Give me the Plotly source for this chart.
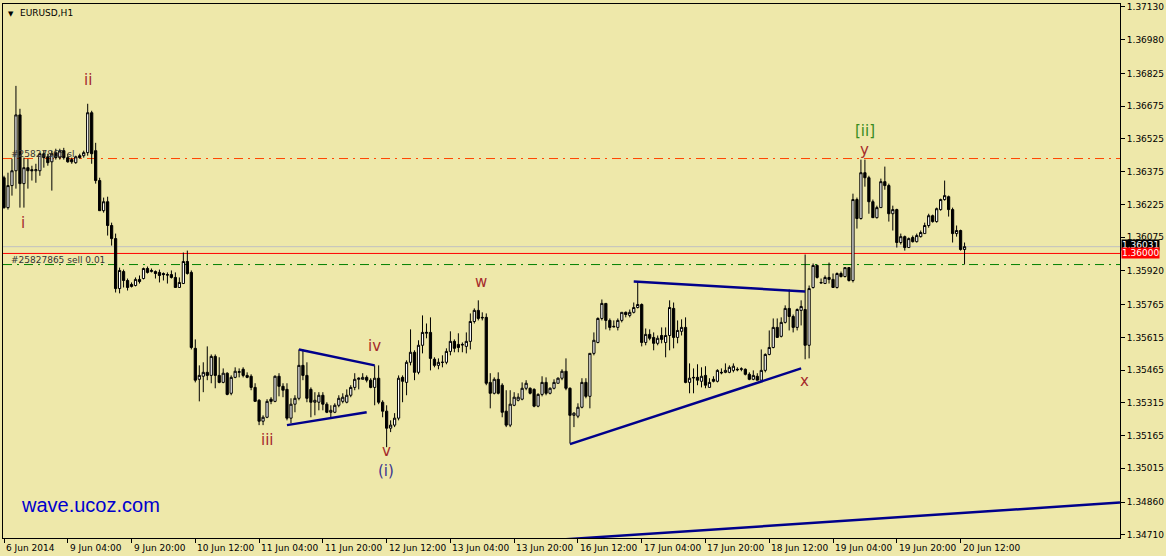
import plotly.graph_objects as go

# ---------------- data (EURUSD H1, bar 0 = 6 Jun 2014 12:00) ----------------
open_ = [
1.36347,1.36210,1.36311,1.36379,1.36635,1.36320,1.36393,1.36384,1.36379,1.36379,
1.36457,1.36443,1.36420,1.36462,1.36439,1.36471,1.36439,1.36430,1.36416,1.36448,
1.36448,1.36462,1.36645,1.36471,1.36334,1.36196,1.36237,1.36128,1.36068,1.35839,
1.35917,1.35876,1.35858,1.35853,1.35881,1.35885,1.35931,1.35917,1.35917,1.35913,
1.35908,1.35903,1.35903,1.35890,1.35844,1.35862,1.35963,1.35913,1.35565,1.35423,
1.35437,1.35455,1.35441,1.35528,1.35441,1.35409,1.35451,1.35359,1.35432,1.35455,
1.35469,1.35441,1.35437,1.35386,1.35327,1.35231,1.35249,1.35332,1.35322,1.35437,
1.35391,1.35377,1.35245,1.35309,1.35336,1.35487,1.35441,1.35377,1.35318,1.35318,
1.35350,1.35309,1.35272,1.35272,1.35304,1.35322,1.35318,1.35350,1.35386,1.35423,
1.35423,1.35432,1.35419,1.35386,1.35428,1.35318,1.35277,1.35199,1.35213,1.35245,
1.35432,1.35409,1.35501,1.35547,1.35455,1.35579,1.35634,1.35638,1.35515,1.35487,
1.35501,1.35501,1.35551,1.35597,1.35583,1.35583,1.35574,1.35597,1.35688,1.35739,
1.35707,1.35707,1.35409,1.35359,1.35423,1.35396,1.35277,1.35213,1.35304,1.35327,
1.35332,1.35382,1.35382,1.35377,1.35300,1.35354,1.35409,1.35359,1.35382,1.35405,
1.35428,1.35460,1.35382,1.35258,1.35254,1.35295,1.35409,1.35345,1.35542,1.35592,
1.35702,1.35771,1.35693,1.35666,1.35661,1.35693,1.35730,1.35716,1.35730,1.35752,
1.35766,1.35592,1.35629,1.35615,1.35588,1.35624,1.35592,1.35624,1.35748,1.35615,
1.35643,1.35661,1.35409,1.35432,1.35432,1.35414,1.35441,1.35386,1.35423,1.35414,
1.35455,1.35455,1.35455,1.35464,1.35469,1.35469,1.35469,1.35446,1.35423,1.35437,
1.35419,1.35464,1.35537,1.35569,1.35661,1.35620,1.35684,1.35748,1.35711,1.35661,
1.35739,1.35743,1.35579,1.35844,1.35945,1.35867,1.35862,1.35890,1.35881,1.35844,
1.35908,1.35894,1.35935,1.35876,1.36247,1.36160,1.36370,1.36347,1.36237,1.36164,
1.36210,1.36329,1.36311,1.36182,1.36201,1.36050,1.36077,1.36027,1.36073,1.36054,
1.36077,1.36091,1.36128,1.36173,1.36146,1.36201,1.36247,1.36260,1.36201,1.36091,
1.36105,1.36018]

high = [
1.36356,1.36370,1.36434,1.36768,1.36663,1.36439,1.36434,1.36402,1.36411,1.36462,
1.36471,1.36457,1.36471,1.36480,1.36480,1.36484,1.36457,1.36439,1.36448,1.36457,
1.36471,1.36686,1.36654,1.36507,1.36347,1.36256,1.36260,1.36141,1.36091,1.35935,
1.35926,1.35885,1.35867,1.35890,1.35899,1.35935,1.35940,1.35931,1.35922,1.35926,
1.35913,1.35913,1.35922,1.35913,1.35890,1.36004,1.36013,1.35922,1.35606,1.35487,
1.35501,1.35574,1.35537,1.35537,1.35524,1.35473,1.35455,1.35441,1.35478,1.35473,
1.35478,1.35455,1.35446,1.35405,1.35332,1.35258,1.35332,1.35341,1.35441,1.35451,
1.35405,1.35405,1.35336,1.35350,1.35560,1.35560,1.35501,1.35386,1.35364,1.35364,
1.35364,1.35318,1.35304,1.35313,1.35350,1.35359,1.35377,1.35396,1.35451,1.35432,
1.35451,1.35441,1.35428,1.35487,1.35487,1.35327,1.35304,1.35235,1.35268,1.35441,
1.35441,1.35510,1.35652,1.35556,1.35602,1.35716,1.35679,1.35707,1.35524,1.35519,
1.35533,1.35565,1.35643,1.35606,1.35634,1.35592,1.35638,1.35725,1.35748,1.35785,
1.35730,1.35725,1.35451,1.35432,1.35455,1.35405,1.35373,1.35373,1.35364,1.35359,
1.35409,1.35419,1.35386,1.35382,1.35359,1.35437,1.35432,1.35386,1.35423,1.35432,
1.35469,1.35519,1.35386,1.35272,1.35313,1.35428,1.35428,1.35542,1.35638,1.35707,
1.35789,1.35771,1.35702,1.35693,1.35702,1.35730,1.35734,1.35743,1.35775,1.35871,
1.35771,1.35656,1.35652,1.35638,1.35624,1.35661,1.35661,1.35785,1.35775,1.35693,
1.35698,1.35707,1.35496,1.35473,1.35492,1.35478,1.35483,1.35428,1.35437,1.35469,
1.35473,1.35496,1.35487,1.35496,1.35478,1.35478,1.35473,1.35455,1.35464,1.35451,
1.35560,1.35542,1.35647,1.35702,1.35702,1.35707,1.35762,1.35835,1.35720,1.35748,
1.35785,1.35995,1.35853,1.35954,1.35949,1.35885,1.35899,1.35958,1.35908,1.35913,
1.35917,1.35935,1.35935,1.36274,1.36256,1.36430,1.36430,1.36356,1.36247,1.36219,
1.36343,1.36398,1.36320,1.36219,1.36205,1.36091,1.36082,1.36073,1.36082,1.36091,
1.36105,1.36141,1.36182,1.36178,1.36210,1.36251,1.36334,1.36265,1.36210,1.36128,
1.36109,1.36050]

low = [
1.36205,1.36201,1.36265,1.36297,1.36210,1.36210,1.36297,1.36334,1.36324,1.36356,
1.36393,1.36402,1.36288,1.36430,1.36430,1.36430,1.36416,1.36411,1.36411,1.36434,
1.36439,1.36448,1.36411,1.36320,1.36196,1.36187,1.36082,1.36036,1.35821,1.35817,
1.35844,1.35830,1.35844,1.35849,1.35862,1.35881,1.35908,1.35913,1.35885,1.35867,
1.35876,1.35862,1.35885,1.35844,1.35844,1.35862,1.35903,1.35560,1.35409,1.35322,
1.35364,1.35419,1.35405,1.35382,1.35405,1.35405,1.35350,1.35350,1.35428,1.35432,
1.35432,1.35428,1.35373,1.35322,1.35213,1.35213,1.35245,1.35309,1.35318,1.35345,
1.35341,1.35235,1.35222,1.35272,1.35327,1.35419,1.35318,1.35249,1.35258,1.35281,
1.35281,1.35268,1.35249,1.35268,1.35295,1.35313,1.35313,1.35341,1.35373,1.35377,
1.35423,1.35409,1.35382,1.35304,1.35309,1.35249,1.35112,1.35181,1.35204,1.35235,
1.35318,1.35350,1.35487,1.35419,1.35446,1.35542,1.35611,1.35464,1.35478,1.35469,
1.35478,1.35492,1.35533,1.35547,1.35547,1.35547,1.35542,1.35560,1.35679,1.35693,
1.35693,1.35396,1.35290,1.35354,1.35354,1.35249,1.35204,1.35204,1.35300,1.35322,
1.35327,1.35373,1.35354,1.35295,1.35295,1.35345,1.35350,1.35354,1.35377,1.35405,
1.35419,1.35373,1.35130,1.35204,1.35245,1.35290,1.35336,1.35290,1.35533,1.35588,
1.35693,1.35652,1.35647,1.35661,1.35647,1.35684,1.35707,1.35707,1.35725,1.35748,
1.35574,1.35579,1.35602,1.35556,1.35579,1.35588,1.35524,1.35556,1.35565,1.35588,
1.35624,1.35405,1.35359,1.35359,1.35396,1.35386,1.35382,1.35386,1.35409,1.35409,
1.35446,1.35451,1.35451,1.35455,1.35460,1.35460,1.35441,1.35419,1.35419,1.35419,
1.35419,1.35455,1.35533,1.35565,1.35615,1.35615,1.35679,1.35647,1.35638,1.35647,
1.35670,1.35515,1.35519,1.35839,1.35885,1.35862,1.35862,1.35862,1.35844,1.35839,
1.35890,1.35890,1.35871,1.35867,1.36114,1.36155,1.36306,1.36182,1.36164,1.36160,
1.36210,1.36292,1.36146,1.36105,1.36027,1.36041,1.36013,1.36027,1.36050,1.36050,
1.36073,1.36091,1.36118,1.36141,1.36141,1.36196,1.36242,1.36169,1.36050,1.36077,
1.36013,1.35949]

close = [
1.36210,1.36311,1.36379,1.36635,1.36320,1.36393,1.36379,1.36379,1.36384,1.36457,
1.36439,1.36416,1.36457,1.36439,1.36471,1.36439,1.36420,1.36420,1.36443,1.36439,
1.36462,1.36645,1.36457,1.36334,1.36196,1.36237,1.36128,1.36068,1.35839,1.35922,
1.35876,1.35844,1.35849,1.35881,1.35871,1.35931,1.35913,1.35922,1.35908,1.35899,
1.35903,1.35901,1.35890,1.35844,1.35867,1.35963,1.35908,1.35569,1.35419,1.35441,
1.35455,1.35441,1.35528,1.35441,1.35409,1.35451,1.35354,1.35432,1.35460,1.35458,
1.35441,1.35432,1.35386,1.35322,1.35231,1.35249,1.35322,1.35322,1.35437,1.35391,
1.35373,1.35245,1.35309,1.35336,1.35487,1.35441,1.35336,1.35318,1.35327,1.35350,
1.35309,1.35272,1.35281,1.35304,1.35336,1.35341,1.35350,1.35386,1.35423,1.35428,
1.35432,1.35419,1.35386,1.35428,1.35318,1.35277,1.35199,1.35213,1.35245,1.35428,
1.35414,1.35501,1.35547,1.35455,1.35579,1.35638,1.35638,1.35519,1.35487,1.35501,
1.35501,1.35551,1.35597,1.35565,1.35569,1.35581,1.35597,1.35688,1.35739,1.35702,
1.35705,1.35405,1.35359,1.35423,1.35359,1.35272,1.35213,1.35309,1.35341,1.35341,
1.35382,1.35405,1.35359,1.35300,1.35354,1.35409,1.35359,1.35382,1.35409,1.35428,
1.35460,1.35382,1.35258,1.35268,1.35295,1.35409,1.35345,1.35542,1.35602,1.35702,
1.35771,1.35693,1.35661,1.35664,1.35693,1.35730,1.35720,1.35730,1.35752,1.35766,
1.35592,1.35629,1.35611,1.35588,1.35611,1.35606,1.35624,1.35752,1.35615,1.35647,
1.35661,1.35409,1.35428,1.35430,1.35419,1.35437,1.35396,1.35409,1.35414,1.35464,
1.35453,1.35464,1.35478,1.35483,1.35467,1.35471,1.35446,1.35423,1.35441,1.35419,
1.35464,1.35537,1.35569,1.35661,1.35615,1.35684,1.35748,1.35711,1.35661,1.35743,
1.35757,1.35579,1.35839,1.35945,1.35890,1.35865,1.35890,1.35881,1.35844,1.35908,
1.35894,1.35935,1.35876,1.36247,1.36160,1.36370,1.36347,1.36237,1.36164,1.36210,
1.36329,1.36311,1.36182,1.36201,1.36050,1.36077,1.36027,1.36068,1.36054,1.36082,
1.36096,1.36128,1.36173,1.36146,1.36205,1.36247,1.36265,1.36201,1.36091,1.36105,
1.36018,1.36031]

assert len(open_) == len(high) == len(low) == len(close) == 242

# time-axis labels (every 16 bars)
x_tick_bars = [0, 16, 32, 48, 64, 80, 96, 112, 128, 144, 160, 176, 192, 208, 224, 240]
x_tick_labels = ["6 Jun 2014", "9 Jun 04:00", "9 Jun 20:00", "10 Jun 12:00", "11 Jun 04:00",
                 "11 Jun 20:00", "12 Jun 12:00", "13 Jun 04:00", "13 Jun 20:00", "16 Jun 12:00",
                 "17 Jun 04:00", "17 Jun 20:00", "18 Jun 12:00", "19 Jun 04:00", "19 Jun 20:00",
                 "20 Jun 12:00"]

# price-axis ticks
y_ticks = [1.37130, 1.36980, 1.36825, 1.36675, 1.36525, 1.36375, 1.36225, 1.36075, 1.35920,
           1.35765, 1.35615, 1.35465, 1.35315, 1.35165, 1.35015, 1.34860, 1.34710]

# horizontal levels
sl_level = 1.36435
bid_level = 1.36031
red_level = 1.36000
entry_level = 1.35949

# trend lines: (bar_start, price_start, bar_end, price_end)
trend_lines = [
    (74, 1.35560, 93, 1.35487),
    (71, 1.35213, 91, 1.35272),
    (158, 1.35871, 201, 1.35826),
    (142, 1.35126, 200, 1.35473),
    (141, 1.34690, 280, 1.34858),
]

# wave labels: (text, bar, price, colour)
wave_labels = [
    ("ii", 21, 1.36796, "#A52A2A"),
    ("i", 4.75, 1.36141, "#A52A2A"),
    ("iii", 66, 1.35144, "#A52A2A"),
    ("iv", 93, 1.35574, "#A52A2A"),
    ("v", 96, 1.35094, "#A52A2A"),
    ("(i)", 95.75, 1.35002, "#3A3490"),
    ("w", 119.75, 1.35867, "#A52A2A"),
    ("x", 200.75, 1.35414, "#A52A2A"),
    ("y", 216, 1.36475, "#A52A2A"),
    ("[ii]", 216, 1.36562, "#3A8C1E"),
]

BG = "#EEE8AA"
FONT = "DejaVu Sans"
NAVY = "#00008B"

bars = list(range(len(close)))

fig = go.Figure()

# horizontal lines (drawn below candles)
for lvl, col, dash in [(sl_level, "#FF4500", "9px,5px,2px,5px"),
                       (bid_level, "#C0C0C0", "solid"),
                       (red_level, "#FF0000", "solid"),
                       (entry_level, "#008000", "9px,5px,2px,5px")]:
    fig.add_shape(type="line", xref="paper", x0=0, x1=1, yref="y", y0=lvl, y1=lvl,
                  line=dict(color=col, width=1, dash=dash), layer="below")

fig.add_trace(go.Candlestick(
    x=bars, open=open_, high=high, low=low, close=close,
    increasing=dict(line=dict(color="black", width=1), fillcolor="white"),
    decreasing=dict(line=dict(color="black", width=1), fillcolor="black"),
    whiskerwidth=0, hoverinfo="skip", showlegend=False))

for b0, p0, b1, p1 in trend_lines:
    fig.add_trace(go.Scatter(x=[b0, b1], y=[p0, p1], mode="lines",
                             line=dict(color=NAVY, width=2.5),
                             hoverinfo="skip", showlegend=False))

annotations = []
for txt, b, p, col in wave_labels:
    annotations.append(dict(x=b, y=p, xref="x", yref="y", text=txt, showarrow=False,
                            font=dict(family=FONT, size=15, color=col)))

for b, lab in zip(x_tick_bars, x_tick_labels):
    annotations.append(dict(x=b, y=0, xref="x", yref="paper", text=lab, showarrow=False,
                            xanchor="left", yanchor="top", xshift=0, yshift=-3,
                            font=dict(family=FONT, size=9, color="black")))

# order texts
annotations.append(dict(x=0, y=sl_level, xref="paper", yref="y", text="#25827865 sl",
                        showarrow=False, xanchor="left", yanchor="bottom", xshift=6, yshift=-2,
                        font=dict(family=FONT, size=9, color="#333333")))
annotations.append(dict(x=0, y=entry_level, xref="paper", yref="y", text="#25827865 sell 0.01",
                        showarrow=False, xanchor="left", yanchor="bottom", xshift=6, yshift=-2,
                        font=dict(family=FONT, size=9, color="#333333")))

# price boxes on the axis
annotations.append(dict(x=1, y=bid_level, xref="paper", yref="y", text="1.36031",
                        showarrow=False, xanchor="left", yanchor="middle", xshift=1, yshift=2,
                        bgcolor="black", borderpad=0,
                        font=dict(family=FONT, size=9, color="white")))
annotations.append(dict(x=1, y=red_level, xref="paper", yref="y", text="1.36000",
                        showarrow=False, xanchor="left", yanchor="middle", xshift=1,
                        bgcolor="#FF0000", borderpad=0,
                        font=dict(family=FONT, size=9, color="white")))

# symbol title and watermark
annotations.append(dict(x=0, y=1, xref="paper", yref="paper", text="▼", showarrow=False,
                        xanchor="left", yanchor="top", xshift=3, yshift=-4,
                        font=dict(family=FONT, size=7, color="black")))
annotations.append(dict(x=0, y=1, xref="paper", yref="paper", text="EURUSD,H1", showarrow=False,
                        xanchor="left", yanchor="top", xshift=15, yshift=-2,
                        font=dict(family=FONT, size=9, color="black")))
annotations.append(dict(x=0, y=0.062, xref="paper", yref="paper", text="wave.ucoz.com",
                        showarrow=False, xanchor="left", yanchor="middle", xshift=16,
                        font=dict(family="Liberation Sans", size=20, color="#0000CD")))

fig.update_layout(
    width=1166, height=556,
    margin=dict(l=2, r=43, t=3, b=18),
    paper_bgcolor=BG, plot_bgcolor=BG,
    showlegend=False,
    boxgap=0.2,
    annotations=annotations,
    xaxis=dict(range=[-0.25, 280.0], showgrid=False, zeroline=False,
               showline=True, linecolor="black", linewidth=1, mirror=True,
               ticks="outside", ticklen=4, tickcolor="black",
               tickvals=x_tick_bars, showticklabels=False,
               rangeslider=dict(visible=False), fixedrange=True),
    yaxis=dict(side="right", range=[1.346957, 1.371433], showgrid=False, zeroline=False,
               showline=True, linecolor="black", linewidth=1, mirror=True,
               ticks="outside", ticklen=4, tickcolor="black",
               tickvals=y_ticks, ticktext=[f"{v:.5f}" for v in y_ticks],
               tickfont=dict(family=FONT, size=9, color="black"), fixedrange=True),
)

fig.write_html("out.html", config={"displayModeBar": False},
               post_script="document.body.style.margin='0';document.body.style.background='" + BG + "';")
